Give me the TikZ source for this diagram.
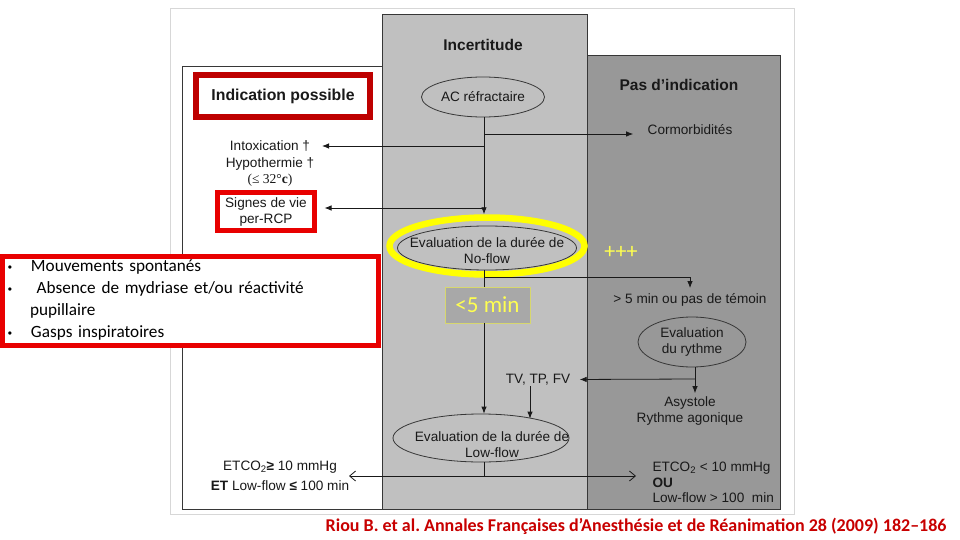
\documentclass[tikz,border=0pt]{standalone}
\usepackage{fontspec}
\setmainfont{Liberation Sans}
\newfontfamily\carlito{Carlito}
\newfontfamily\serifb{Liberation Serif}
\usetikzlibrary{shapes.geometric,arrows.meta,calc}
\definecolor{midgray}{RGB}{192,192,192}
\definecolor{darkgray2}{RGB}{152,152,152}
\definecolor{framegray}{RGB}{215,215,215}
\definecolor{edge}{RGB}{55,55,55}
\definecolor{txt}{RGB}{25,25,25}
\definecolor{darkred}{RGB}{190,0,0}
\definecolor{brightred}{RGB}{232,0,0}
\definecolor{ringyellow}{RGB}{255,255,0}
\definecolor{ylwtxt}{RGB}{255,255,80}
\definecolor{citered}{RGB}{200,0,0}
\definecolor{boxgray}{RGB}{168,168,168}
\definecolor{boxedge}{RGB}{215,215,110}
\frenchspacing
\begin{document}
\begin{tikzpicture}[x=1pt,y=-1pt,
  every node/.style={text=txt, font=\fontsize{13.6}{16}\selectfont},
  ell/.style={ellipse, draw=edge, line width=0.8pt, inner sep=0pt, align=center},
  arr/.style={draw=txt, line width=0.8pt, -{Latex[length=7pt,width=5.5pt]}},
  ln/.style={draw=txt, line width=0.8pt},
  dbl/.style={draw=txt, line width=0.8pt, {Straight Barb[length=6pt,width=10pt]}-{Straight Barb[length=6pt,width=10pt]}},
  redbox/.style={fill=white, inner sep=0pt, align=center},
  paneltitle/.style={font=\bfseries\fontsize{15.5}{18}\selectfont}
]
\useasboundingbox (0,0) rectangle (960,540);
\fill[white] (0,0) rectangle (960,540);
% frame and panels
\draw[framegray, line width=1pt] (170.5,9) rectangle (794,514);
\draw[edge, fill=white, line width=0.8pt] (182,66) rectangle (382,509);
\draw[edge, fill=midgray, line width=0.8pt] (382,14) rectangle (587,509);
\draw[edge, fill=darkgray2, line width=0.8pt] (587,55) rectangle (780,509);

% titles
\node[paneltitle] (incert) at (483,45) {Incertitude};
\node[paneltitle] (pasd) at (679,84.5) {Pas d’indication};
\node[redbox, draw=darkred, line width=5.5pt, minimum width=174pt, minimum height=42pt,
      font=\bfseries\fontsize{15.8}{18}\selectfont] (indic) at (283,96) {Indication possible};

% top ellipse and branches
\node[ell, fill=midgray, minimum width=123pt, minimum height=40pt] (ac) at (483,97) {AC réfractaire};
\coordinate (j1) at (484,134);
\coordinate (j2) at (484,146);
\coordinate (j3) at (484,208);
\coordinate (intoxtip) at (322,146);
\node (corm) at (690,130) {Cormorbidités};
\node[align=center, font=\fontsize{13.6}{16.5}\selectfont] (intox) at (270,164)
  {Intoxication †\\Hypothermie †\\{\serifb(≤ 32°\textbf{c})}};
\node[redbox, draw=brightred, line width=5pt, minimum width=97pt, minimum height=38pt] (signes) at (266,211.5)
  {Signes de vie\\per-RCP};

% no-flow ellipse with yellow ring
\node[ellipse, draw=ringyellow, line width=6.5pt, minimum width=195pt, minimum height=57pt, inner sep=0pt] (ring) at (487,246) {};
\node[ell, fill=midgray, minimum width=179pt, minimum height=44pt] (noflow) at (487,248) {};
\node[align=center] (noflowtxt) at (487,250.5) {Evaluation de la durée de\\No-flow};

\draw[ln] (ac.south -| j1) -- (j3);
\draw[arr] (j3) -- (ring.north -| j3);
\draw[arr, shorten >=11pt] (j1) -- (corm.west |- j1);
\draw[arr] (j2) -- (intoxtip);
\draw[arr, shorten >=7.5pt] (j3) -- (signes.east |- j3);

% +++ and <5 min
\node[font=\carlito\fontsize{22}{24}\selectfont, text=ylwtxt] (plus) at (621,252) {+++};
\node[draw=boxedge, line width=0.8pt, fill=boxgray, minimum width=85pt, minimum height=36pt, inner sep=0pt,
      font=\carlito\fontsize{23}{24}\selectfont, text=ylwtxt] (five) at (487.5,305) {<5 min};

% right branch
\coordinate (j4) at (484,277);
\coordinate (j5) at (690,277);
\node (temoin) at (690,300) {> 5 min ou pas de témoin};
\draw[ln] (noflow.south -| j4) -- (five.north -| j4);
\draw[arr, shorten >=2pt] (j4) -- (j5) -- (temoin.north);

\node[ell, fill=darkgray2, minimum width=108pt, minimum height=50pt] (rythme) at (692,342) {Evaluation\\du rythme};
\node[align=center] (asys) at (690,411) {Asystole\\Rythme agonique};
\coordinate (j6) at (695,379);
\node (tv) at (538,379.5) {TV, TP, FV};
\draw[arr] (rythme.south -| j6) -- (asys.north -| j6);
\draw[arr, shorten >=6pt] (j6) -- (tv.east);

% low-flow ellipse
\node[ell, fill=midgray, minimum width=176pt, minimum height=48pt] (lowflow) at (481,438) {};
\node[align=center] (lowtxt) at (492,445) {Evaluation de la durée de\\Low-flow};
\coordinate (j7) at (530,386);
\draw[arr] (five.south -| j4) -- (lowflow.north -| j4);
\draw[arr, shorten >=-5pt] (j7) -- (lowflow.north -| j7);

% bottom double arrow
\coordinate (j9) at (484,476);
\coordinate (lend) at (349,476);
\coordinate (rend) at (636,476);
\draw[ln] (lowflow.south -| j9) -- (j9);
\draw[dbl] (lend) -- (rend);
\node[anchor=base] (etl1) at (280,470) {ETCO\textsubscript{2}\textbf{≥} 10 mmHg};
\node[anchor=base] (etl2) at (280,490) {\textbf{ET} Low-flow \textbf{≤} 100 min};
\node[anchor=base west] (etr1) at (649,471) {ETCO\textsubscript{2} < 10 mmHg};
\node[anchor=base west] (etr2) at (649,487) {\textbf{OU}};
\node[anchor=base west] (etr3) at (649,502) {Low-flow > 100\ \ min};

% bullet box
\node[draw=brightred, line width=5pt, fill=white, minimum width=376pt, minimum height=89pt,
      text width=365pt, inner xsep=5.5pt, inner ysep=0pt, align=left,
      font=\carlito\fontsize{17.2}{22}\selectfont, text=black] (bullets) at (190.5,300.5)
  {\makebox[23pt][l]{\rmfamily\fontsize{12}{12}\selectfont •}Mouvements spontanés\\
   \makebox[23pt][l]{\rmfamily\fontsize{12}{12}\selectfont •}\ Absence de mydriase et/ou réactivité\\
   \hspace*{22pt}pupillaire\\
   \makebox[23pt][l]{\rmfamily\fontsize{12}{12}\selectfont •}Gasps inspiratoires};

% citation
\node[anchor=base east, font=\carlito\bfseries\fontsize{18}{20}\selectfont, text=citered] (cite) at (950,531)
  {Riou B. et al. Annales Françaises d’Anesthésie et de Réanimation 28 (2009) 182–186};
\end{tikzpicture}
\end{document}
